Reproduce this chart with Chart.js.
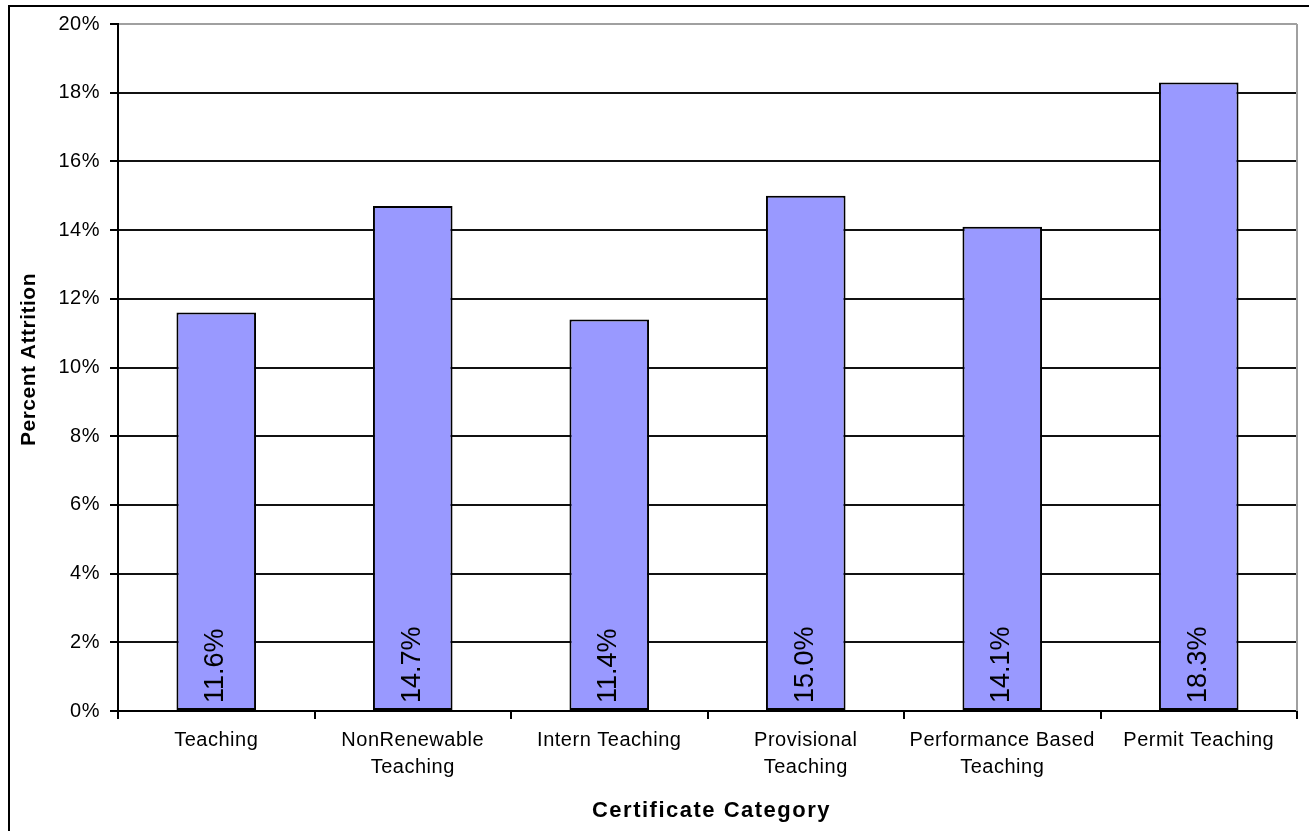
<!DOCTYPE html>
<html><head><meta charset="utf-8">
<script src="https://cdn.jsdelivr.net/npm/chart.js@4/dist/chart.umd.min.js"></script>
<style>html,body{margin:0;padding:0;background:#fff;overflow:hidden}#wrap{width:1309px;height:831px;position:relative}</style>
</head><body><div id="wrap"><canvas id="c" width="1309" height="831"></canvas></div>
<script>
const categories = [['Teaching'], ['NonRenewable', 'Teaching'], ['Intern Teaching'], ['Provisional', 'Teaching'], ['Performance Based', 'Teaching'], ['Permit Teaching']];
const attritionValues = [11.6, 14.7, 11.4, 15.0, 14.1, 18.3];
const yTickValues = [0, 2, 4, 6, 8, 10, 12, 14, 16, 18, 20];
const xTitle = 'Certificate Category';
const yTitle = 'Percent Attrition';

const FONT = '"Liberation Sans", Arial, Helvetica, sans-serif';

const framePlugin = {
  id: 'frame',
  beforeDraw(chart) {
    chart.ctx.letterSpacing = '0.5px';
  },
  afterDatasetsDraw(chart) {
    const ctx = chart.ctx;
    const ys = chart.scales.y;
    const meta = chart.getDatasetMeta(0);
    const yBase = ys.getPixelForValue(0);
    ctx.save();
    ctx.letterSpacing = '0px';
    ctx.font = '27px ' + FONT;
    ctx.fillStyle = '#000';
    ctx.textAlign = 'left';
    ctx.textBaseline = 'alphabetic';
    meta.data.forEach((bar, i) => {
      ctx.save();
      ctx.translate(bar.x + 7, yBase - 8);
      ctx.rotate(-Math.PI / 2);
      ctx.fillText(attritionValues[i].toFixed(1) + '%', 0, 0);
      ctx.restore();
    });
    ctx.restore();
  },
  afterDraw(chart) {
    const ctx = chart.ctx;
    const a = chart.chartArea;
    ctx.save();
    // right plot border (gray)
    ctx.strokeStyle = '#a0a0a0';
    ctx.lineWidth = 2;
    ctx.beginPath();
    ctx.moveTo(Math.round(a.right), a.top);
    ctx.lineTo(Math.round(a.right), a.bottom);
    ctx.stroke();
    // outer chart frame
    ctx.strokeStyle = '#000';
    ctx.lineWidth = 2;
    ctx.beginPath();
    ctx.moveTo(chart.width, 6);
    ctx.lineTo(9, 6);
    ctx.lineTo(9, chart.height);
    ctx.stroke();
    // x title
    ctx.fillStyle = '#000';
    ctx.font = 'bold 22px ' + FONT;
    ctx.letterSpacing = '1.5px';
    ctx.textAlign = 'center';
    ctx.textBaseline = 'alphabetic';
    ctx.fillText(xTitle, (a.left + a.right) / 2 + 4, 817);
    // y title
    ctx.font = 'bold 21px ' + FONT;
    ctx.letterSpacing = '0.5px';
    ctx.translate(35, (a.top + a.bottom) / 2 - 8);
    ctx.rotate(-Math.PI / 2);
    ctx.fillText(yTitle, 0, 0);
    ctx.restore();
  }
};

new Chart(document.getElementById('c'), {
  type: 'bar',
  data: {
    labels: categories,
    datasets: [{
      data: attritionValues,
      backgroundColor: '#9999FF',
      borderColor: '#000',
      borderWidth: 2,
      borderSkipped: false,
      barPercentage: 0.405,
      categoryPercentage: 1
    }]
  },
  options: {
    responsive: false,
    animation: false,
    devicePixelRatio: 1,
    layout: { padding: { left: 0, right: 12, top: 24, bottom: 0 } },
    plugins: { legend: { display: false }, tooltip: { enabled: false }, title: { display: false } },
    scales: {
      x: {
        offset: true,
        grid: { display: true, offset: true, drawOnChartArea: false, drawTicks: true, tickLength: 8, color: '#000', lineWidth: 2 },
        border: { display: true, color: '#000', width: 2 },
        ticks: {
          autoSkip: false, maxRotation: 0, minRotation: 0, padding: 8,
          color: '#000', font: { family: FONT, size: 20, lineHeight: 1.35 }
        },
        afterFit(s) { s.height = 120; }
      },
      y: {
        min: 0, max: 20,
        afterBuildTicks(s) { s.ticks = yTickValues.map(v => ({ value: v })); },
        grid: {
          color: (c) => (c.tick && c.tick.value === 20 ? '#a0a0a0' : '#111'),
          tickColor: '#000', lineWidth: 2, drawTicks: true, tickLength: 8
        },
        border: { display: true, color: '#000', width: 2 },
        ticks: {
          padding: 10, color: '#000',
          font: { family: FONT, size: 20 },
          callback: (v) => v + '%'
        },
        afterFit(s) { s.width = 118; }
      }
    }
  },
  plugins: [framePlugin]
});
</script>
</body></html>
